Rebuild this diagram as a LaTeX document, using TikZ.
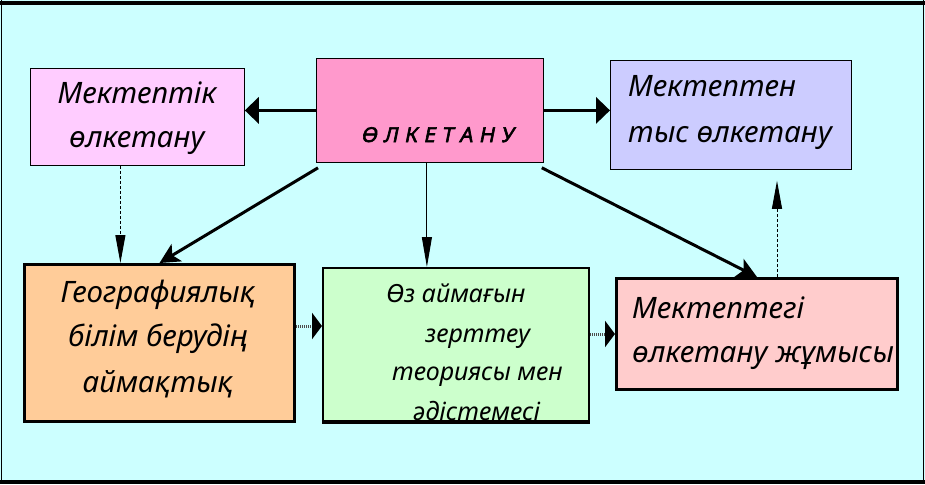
\documentclass[tikz,border=0pt]{standalone}
\usepackage{fontspec}
\setmainfont{Noto Sans}
\newfontfamily\olkfont[FakeBold=3,FakeSlant=0.2]{Noto Sans}
\usetikzlibrary{arrows.meta,calc}
\definecolor{bgc}{HTML}{CCFFFF}
\definecolor{c1}{HTML}{FFCCFF}
\definecolor{c2}{HTML}{FF99CC}
\definecolor{c3}{HTML}{CCCCFF}
\definecolor{c4}{HTML}{FFCC99}
\definecolor{c5}{HTML}{CCFFCC}
\definecolor{c6}{HTML}{FFCCCC}
\newcommand{\lsp}{\hspace{6.5pt}}
\begin{document}
\begin{tikzpicture}[x=1pt,y=-1pt,
  box/.style={draw=black,line width=0.8pt,inner sep=0pt,anchor=north west},
  boxthick/.style={box,line width=3pt},
  txt/.style={font=\itshape\fontsize{29.5}{32}\selectfont,anchor=base west,inner sep=0pt},
  gtxt/.style={txt,font=\itshape\fontsize{25}{28}\selectfont},
  otxt/.style={anchor=base,inner sep=0pt,font=\olkfont\fontsize{20.5}{22}\selectfont},
  thickarr/.style={line width=3.5pt,-{Triangle[length=14pt,width=26pt]}},
  diagarr/.style={line width=3pt,-{Stealth[length=20pt,width=20pt,inset=5pt]}},
  thinarr/.style={line width=1pt,-{Triangle[length=30pt,width=10pt]}},
  dasharr/.style={line width=1pt,dashed,dash pattern=on 3pt off 2pt,-{Triangle[length=28pt,width=10pt]}},
  dotarr/.style={line width=3pt,dash pattern=on 1pt off 1pt,draw=black!70,-{Triangle[length=10pt,width=26pt,color=black,fill=black]}}]
\useasboundingbox (0,0) rectangle (925,484);
\fill[bgc] (0,0) rectangle (925,484);
\draw[line width=4pt] (0,3) -- (925,3);
\draw[line width=4pt] (0,482) -- (925,482);
\draw[line width=1.5pt] (1.5,0) -- (1.5,484);
\draw[line width=1.5pt] (923.5,0) -- (923.5,484);

% boxes
\node[box,fill=c1,minimum width=214pt,minimum height=97pt] (mk) at (30,68) {};
\node[box,fill=c2,minimum width=227pt,minimum height=104pt] (olk) at (316,58) {};
\node[box,fill=c3,minimum width=241pt,minimum height=109pt] (tys) at (610,60) {};
\node[boxthick,fill=c4,minimum width=270pt,minimum height=157pt] (geo) at (23,263) {};
\node[box,line width=2pt,fill=c5,minimum width=266pt,minimum height=153pt] (oz) at (322,267) {};
\node[boxthick,fill=c6,minimum width=281pt,minimum height=111pt] (mkt) at (615,277) {};

% texts
\node[txt,anchor=base] (t1a) at (137,103) {Мектептік};
\node[txt,anchor=base] (t1b) at (137,147) {өлкетану};
\node[otxt] (t2) at (437,142) {Ө\lsp Л\lsp К\lsp Е\lsp Т\lsp А\lsp Н\lsp У};
\node[txt] (t3a) at (628,97) {Мектептен};
\node[txt] (t3b) at (628,142) {тыс өлкетану};
\node[txt,anchor=base] (t4a) at (158,302) {Географиялық};
\node[txt,anchor=base] (t4b) at (158,346) {білім берудің};
\node[txt,anchor=base] (t4c) at (158,392) {аймақтық};
\begin{scope}
\clip (323,268) rectangle (587,419);
\node[gtxt] (t5a) at (386,302) {Өз аймағын};
\node[gtxt] (t5b) at (425,342) {зерттеу};
\node[gtxt] (t5c) at (392,380) {теориясы мен};
\node[gtxt] (t5d) at (413,420) {әдістемесі};
\end{scope}
\draw[line width=4pt] (oz.south west) -- (oz.south east);
\node[txt] (t6a) at (632,318) {Мектептегі};
\node[txt] (t6b) at (632,362) {өлкетану жұмысы};

% connectors
\draw[thickarr] (olk.west) -- (olk.west -| mk.east);
\draw[thickarr] (olk.east) -- (olk.east -| tys.west);
\draw[diagarr] ($(olk.south west)+(2,5)$) -- (geo.north);
\draw[thinarr] ($(olk.south)+(-3,0)$) coordinate (v1) -- (v1 |- oz.north);
\draw[diagarr] ($(olk.south east)+(-2,5)$) -- (mkt.north);
\coordinate (d1) at ($(mk.south)+(-17,0)$);
\draw[dasharr] (d1) -- (d1 |- geo.north);
\coordinate (d2) at ($(mkt.north)+(20,0)$);
\coordinate (d3) at ($(tys.south)+(44,11)$);
\draw[dasharr] (d2) -- (d2 |- d3);
\coordinate (p1) at ($(geo.east)+(0,-17)$);
\draw[dotarr] (p1) -- (p1 -| oz.west);
\coordinate (p2) at (oz.east |- mkt.west);
\draw[dotarr] (p2) -- (mkt.west);
\end{tikzpicture}
\end{document}
